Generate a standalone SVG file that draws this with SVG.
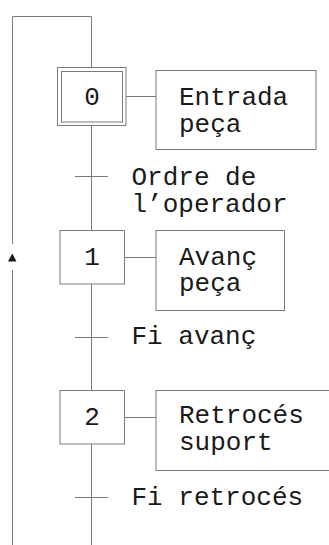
<svg xmlns="http://www.w3.org/2000/svg" width="329" height="545" viewBox="0 0 329 545">
  <style>
    .ln { fill: none; stroke: #7a7a7a; stroke-width: 1; }
    .box { fill: #ffffff; stroke: #7a7a7a; stroke-width: 1; }
    .txt { font-family: "Liberation Mono", "Courier New", monospace; font-size: 26px; fill: #1a1a1a; }
    .num { text-anchor: middle; }
  </style>
  <rect width="329" height="545" fill="#ffffff"/>

  <!-- connectors: step links, loop-back, transitions -->
  <g id="connectors">
    <path class="ln" d="M91.5 67.5 V16.5 H12.5 V244"/>
    <path class="ln" d="M12.5 270 V545"/>
    <polygon points="12.3,253.5 16.5,261.5 8,261.5" fill="#1a1a1a"/>
    <path class="ln" d="M91.5 125.5 V230.5"/>
    <path class="ln" d="M91.5 284 V390.5"/>
    <path class="ln" d="M91.5 444 V545"/>
    <!-- transitions -->
    <path class="ln" d="M75 176.5 H108"/>
    <path class="ln" d="M75 337.5 H108"/>
    <path class="ln" d="M75 497.5 H108"/>
    <!-- action links -->
    <path class="ln" d="M126 96.5 H156"/>
    <path class="ln" d="M124.5 257.5 H156"/>
    <path class="ln" d="M124.5 417.5 H156"/>
  </g>

  <!-- transition conditions -->
  <g id="t1">
    <text class="txt" x="131.5" y="185">Ordre de</text>
    <text class="txt" x="131.5" y="211.7">l’operador</text>
  </g>
  <g id="t2">
    <text class="txt" x="131.5" y="344.3">Fi avanç</text>
  </g>
  <g id="t3">
    <text class="txt" x="131.5" y="505">Fi retrocés</text>
  </g>

  <!-- initial step 0 -->
  <g id="step0">
    <rect class="box" x="57.5" y="67.5" width="68.5" height="58"/>
    <rect class="box" x="61.5" y="71.5" width="61" height="50.5"/>
    <text class="txt num" x="92" y="105">0</text>
  </g>
  <g id="action0">
    <rect class="box" x="156" y="70.5" width="160" height="79"/>
    <text class="txt" x="179" y="105">Entrada</text>
    <text class="txt" x="179" y="131.7">peça</text>
  </g>

  <!-- step 1 -->
  <g id="step1">
    <rect class="box" x="60" y="230.5" width="64.5" height="53.5"/>
    <text class="txt num" x="92" y="265">1</text>
  </g>
  <g id="action1">
    <rect class="box" x="156" y="230.5" width="128.5" height="80"/>
    <text class="txt" x="179" y="264.5">Avanç</text>
    <text class="txt" x="179" y="291.3">peça</text>
  </g>

  <!-- step 2 -->
  <g id="step2">
    <rect class="box" x="60" y="390.5" width="64.5" height="53.5"/>
    <text class="txt num" x="92" y="425">2</text>
  </g>
  <g id="action2">
    <rect class="box" x="156" y="390.5" width="180" height="80"/>
    <text class="txt" x="179" y="423">Retrocés</text>
    <text class="txt" x="179" y="450">suport</text>
  </g>
</svg>
